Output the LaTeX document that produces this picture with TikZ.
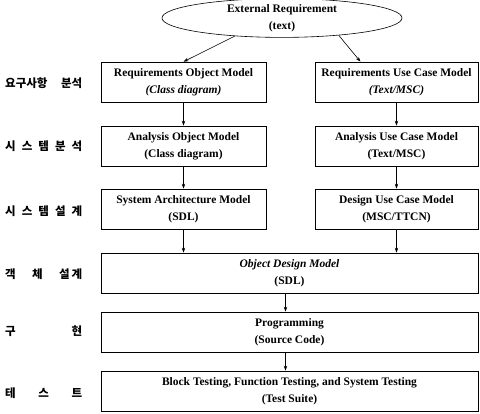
\documentclass[tikz,border=0pt]{standalone}
\usepackage{fontspec}
\setmainfont{Liberation Serif}
\newfontfamily\kr{Noto Sans CJK KR}
\usetikzlibrary{shapes.geometric,arrows.meta}
\begin{document}
\begin{tikzpicture}[x=1pt,y=-1pt,
  box/.style={draw, line width=0.6pt, minimum height=40pt, inner sep=0pt, align=center,
              font=\bfseries\fontsize{11.5}{17}\selectfont},
  arr/.style={-{Stealth[length=5pt,width=3.5pt]}, line width=0.6pt},
  lab/.style={anchor=west, inner sep=0pt, font=\kr\bfseries\fontsize{11.5}{13}\selectfont}]
\useasboundingbox (0,0) rectangle (480,414);
\node[draw, ellipse, line width=0.6pt, minimum width=240pt, minimum height=34pt, inner sep=0pt,
      align=center, font=\bfseries\fontsize{11.5}{17}\selectfont] (er) at (282,18) {External Requirement\\(text)};
\node[box, minimum width=165pt] (ro) at (183.5,82) {Requirements Object Model\\\textit{(Class diagram)}};
\node[box, minimum width=163pt] (ru) at (396.5,82) {Requirements Use Case Model\\\textit{(Text/MSC)}};
\node[box, minimum width=165pt] (ao) at (183.5,146) {Analysis Object Model\\(Class diagram)};
\node[box, minimum width=163pt] (au) at (396.5,146) {Analysis Use Case Model\\(Text/MSC)};
\node[box, minimum width=165pt] (sa) at (183.5,209) {System Architecture Model\\(SDL)};
\node[box, minimum width=163pt] (du) at (396.5,209) {Design Use Case Model\\(MSC/TTCN)};
\node[box, minimum width=377pt] (od) at (289.5,273) {\textit{Object Design Model}\\(SDL)};
\node[box, minimum width=377pt] (pg) at (289.5,332) {Programming\\(Source Code)};
\node[box, minimum width=377pt] (ts) at (289.5,391) {Block Testing, Function Testing, and System Testing\\(Test Suite)};
\draw[arr] (er.201) -- (ro.north);
\draw[arr] (er.343) -- ([xshift=-36pt]ru.north);
\draw[arr] (ro) -- (ao);
\draw[arr] (ru) -- (au);
\draw[arr] (ao) -- (sa);
\draw[arr] (au) -- (du);
\draw[arr] (sa.south) -- (sa.south |- od.north);
\draw[arr] (du.south) -- (du.south |- od.north);
\draw[arr] ([xshift=-4pt]od.south) -- ([xshift=-4pt]pg.north);
\draw[arr] ([xshift=-4pt]pg.south) -- ([xshift=-4pt]ts.north);
\node[lab] (k1) at (5,83) {\hbox to 77pt{요구사항\hfill 분석}};
\node[lab] (k2) at (5,146) {\hbox to 77pt{시\hfill 스\hfill 템\hfill 분\hfill 석}};
\node[lab] (k3) at (5,211) {\hbox to 77pt{시\hfill 스\hfill 템\hfill 설\hfill 계}};
\node[lab] (k4) at (5,274) {\hbox to 77pt{객\hfill 체\hfill 설\hspace{2pt}계}};
\node[lab] (k5) at (5,331) {\hbox to 77pt{구\hfill 현}};
\node[lab] (k6) at (5,393) {\hbox to 77pt{테\hfill 스\hfill 트}};
\end{tikzpicture}
\end{document}
